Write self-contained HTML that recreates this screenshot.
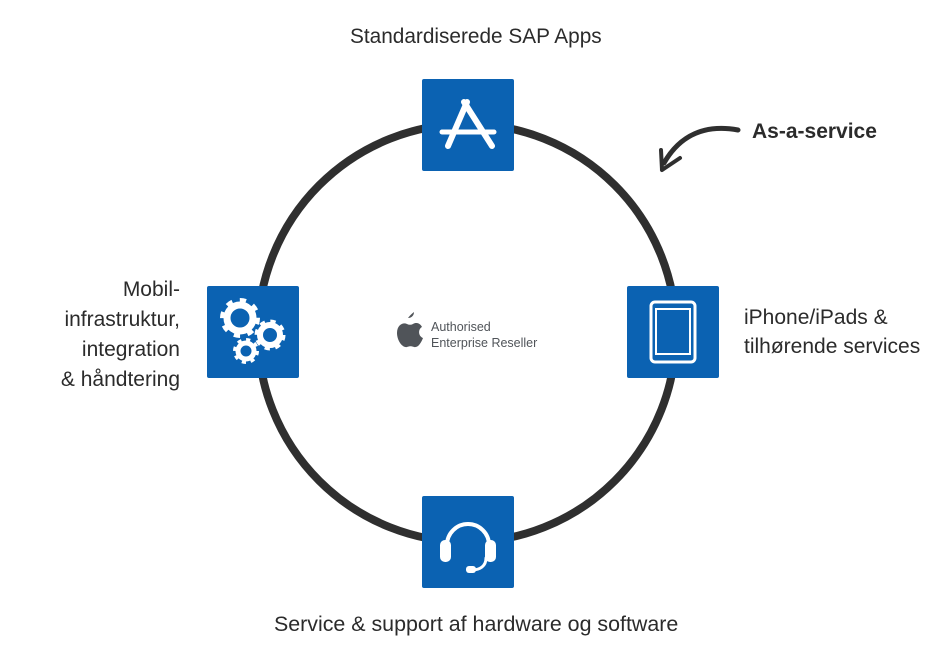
<!DOCTYPE html>
<html><head><meta charset="utf-8"><style>
body{margin:0;background:#fff;width:935px;height:663px;overflow:hidden;position:relative;font-family:"Liberation Sans",sans-serif;color:#2b2b2b}
.t{position:absolute;font-size:21px;line-height:29px;white-space:nowrap}
</style></head><body>
<svg width="935" height="663" style="position:absolute;left:0;top:0">
<circle cx="467" cy="333" r="209" fill="none" stroke="#2f2f2f" stroke-width="8"/>
<path d="M738 130 C705 124 680 135 664 163" fill="none" stroke="#2f2f2f" stroke-width="5" stroke-linecap="round"/>
<path d="M662 170 L661 150 M662 170 L680 158" fill="none" stroke="#2f2f2f" stroke-width="4" stroke-linecap="round"/>
<g fill="#0b62b2">
<rect x="422" y="79" width="92" height="92" rx="2"/>
<rect x="207" y="286" width="92" height="92" rx="2"/>
<rect x="627" y="286" width="92" height="92" rx="2"/>
<rect x="422" y="496" width="92" height="92" rx="2"/>
</g>
<g stroke="#fff" stroke-linecap="round" fill="none">
<path d="M448 146 L467 102" stroke-width="6"/>
<path d="M464 102 L492 146" stroke-width="6"/>
<path d="M442 132 L494 132" stroke-width="5"/>
</g>
<g fill="none" stroke="#fff">
<circle cx="240" cy="318" r="13" stroke-width="7"/>
<circle cx="240" cy="318" r="17" stroke-width="6" stroke-dasharray="6 7.3"/>
<circle cx="270" cy="335" r="10" stroke-width="6"/>
<circle cx="270" cy="335" r="13" stroke-width="5" stroke-dasharray="5 5.2"/>
<circle cx="246" cy="351" r="8" stroke-width="5"/>
<circle cx="246" cy="351" r="11" stroke-width="4" stroke-dasharray="4 4.6"/>
</g>
<rect x="651" y="302" width="44" height="60" rx="4" fill="none" stroke="#fff" stroke-width="3"/>
<rect x="655" y="308" width="36" height="47" fill="#fff"/>
<rect x="657" y="310" width="32" height="43" fill="#0b62b2"/>
<g fill="none" stroke="#fff" stroke-linecap="round">
<path d="M447 545 A21 21 0 0 1 489 545" stroke-width="4"/>
<path d="M486 558 C486 566 480 570 472 570" stroke-width="3"/>
</g>
<g fill="#fff">
<rect x="440" y="540" width="11" height="22" rx="5"/>
<rect x="485" y="540" width="11" height="22" rx="5"/>
<rect x="466" y="566" width="10" height="7" rx="3"/>
</g>
<path d="M408 318 C411 314 413 313 414 312 C414 315 412 318 408 318 Z M397 333 C397 325 403 322 407 324 C409 325 411 325 413 324 C416 322 420 323 422 327 C418 329 418 336 423 338 C421 343 418 348 414 347 C411 346 410 346 407 347 C402 348 397 340 397 333 Z" fill="#505459"/>
</svg>
<div class="t" style="left:350px;top:22px;font-size:20.8px">Standardiserede SAP Apps</div>
<div class="t" style="left:752px;top:117px;font-weight:bold;font-size:21px">As-a-service</div>
<div class="t" style="left:30px;top:275px;width:150px;text-align:right;line-height:30px;white-space:normal">Mobil-<br>infrastruktur,<br>integration<br>&amp; håndtering</div>
<div class="t" style="left:744px;top:303px">iPhone/iPads &amp;<br>tilhørende services</div>
<div class="t" style="left:274px;top:610px;font-size:21.4px">Service &amp; support af hardware og software</div>
<div class="t" style="left:431px;top:319px;font-size:12.5px;line-height:16px;color:#505459">Authorised<br>Enterprise Reseller</div>
</body></html>
